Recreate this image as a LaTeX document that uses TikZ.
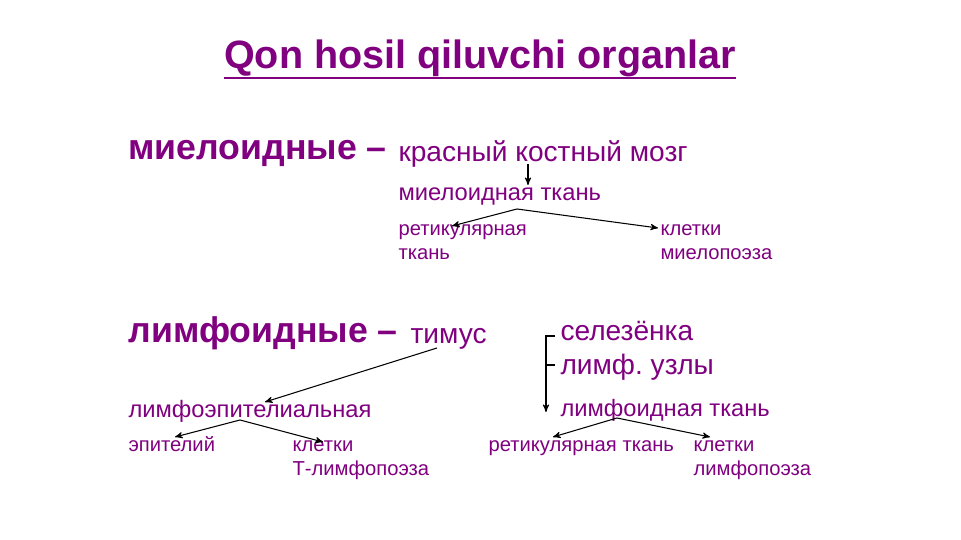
\documentclass[tikz,border=0pt]{standalone}
\usepackage{fontspec}
\setmainfont{Liberation Sans}
\usepackage{xcolor}
\usetikzlibrary{arrows,positioning,calc}
\definecolor{orgpurple}{RGB}{128,0,128}
\tikzset{lbl/.style={anchor=base west,inner sep=0pt,text=orgpurple},
  head/.style={lbl,font=\fontsize{20.3}{24}\selectfont\bfseries},
  big/.style={lbl,font=\fontsize{16}{19}\selectfont},
  mid/.style={lbl,font=\fontsize{13.5}{16}\selectfont},
  small/.style={lbl,font=\fontsize{11.5}{14}\selectfont}}

\begin{document}
\begin{tikzpicture}[x=0.02cm, y=-0.02cm, ->, >=stealth', semithick]
    \fill[white] (0,0) rectangle (961,540);
    \useasboundingbox (0,0) rectangle (961,540);
    % title
    \node[anchor=base,inner sep=0pt,text=orgpurple,font=\fontsize{22.5}{27}\selectfont\bfseries] (title) at (480,69) {Qon hosil qiluvchi organlar};
    \draw[-,orgpurple,line width=1.3pt] ([yshift=-5pt]title.base west) -- ([yshift=-5pt]title.base east);

    % myeloid
    \node[head] (mye) at (128,160) {миелоидные –};
    \node[big] (kbm) at (398,162) {красный костный мозг};
    \node[mid] (myt) at (398,201) {миелоидная ткань};
    \node[small] (ret1) at (398,236) {ретикулярная};
    \node[small] (ret2) at (398,260) {ткань};
    \node[small] (kl1) at (660,236) {клетки};
    \node[small] (kl2) at (660,260) {миелопоэза};
    \coordinate (a1) at (528,164);
    \coordinate (a2) at (528,185);
    \coordinate (b1) at (517,209);
    \coordinate (b2) at (452,226);
    \coordinate (b3) at (658,228);
    \path (a1) edge (a2);
    \path (b1) edge (b2) edge (b3);

    % lymphoid
    \node[head] (lym) at (128,343) {лимфоидные –};
    \node[big] (tim) at (410,344) {тимус};
    \node[big] (sel) at (560,341) {селезёнка};
    \node[big] (uzl) at (560,375) {лимф.\ узлы};
    \node[mid] (lep) at (128,418) {лимфоэпителиальная};
    \node[mid] (lyt) at (560,417) {лимфоидная ткань};
    \node[small] (epi) at (128,452) {эпителий};
    \node[small] (kt1) at (292,452) {клетки};
    \node[small] (kt2) at (292,476) {Т-лимфопоэза};
    \node[small] (rlt) at (488,452) {ретикулярная ткань};
    \node[small] (kp1) at (693,452) {клетки};
    \node[small] (kp2) at (693,476) {лимфопоэза};
    \coordinate (c1) at (437,348);
    \coordinate (c2) at (265,402);
    \coordinate (d1) at (240,420);
    \coordinate (d2) at (175,437);
    \coordinate (d3) at (323,442);
    \coordinate (e1) at (555,336);
    \coordinate (e2) at (546,336);
    \coordinate (e3) at (546,412);
    \coordinate (e4) at (555,365);
    \coordinate (f1) at (617,418);
    \coordinate (f2) at (553,437);
    \coordinate (f3) at (710,437);
    \path (c1) edge (c2);
    \path (d1) edge (d2) edge (d3);
    \draw (e1) -- (e2) -- (e3);
    \draw[-] (e4) -- (e2 |- e4);
    \path (f1) edge (f2) edge (f3);
\end{tikzpicture}
\end{document}
